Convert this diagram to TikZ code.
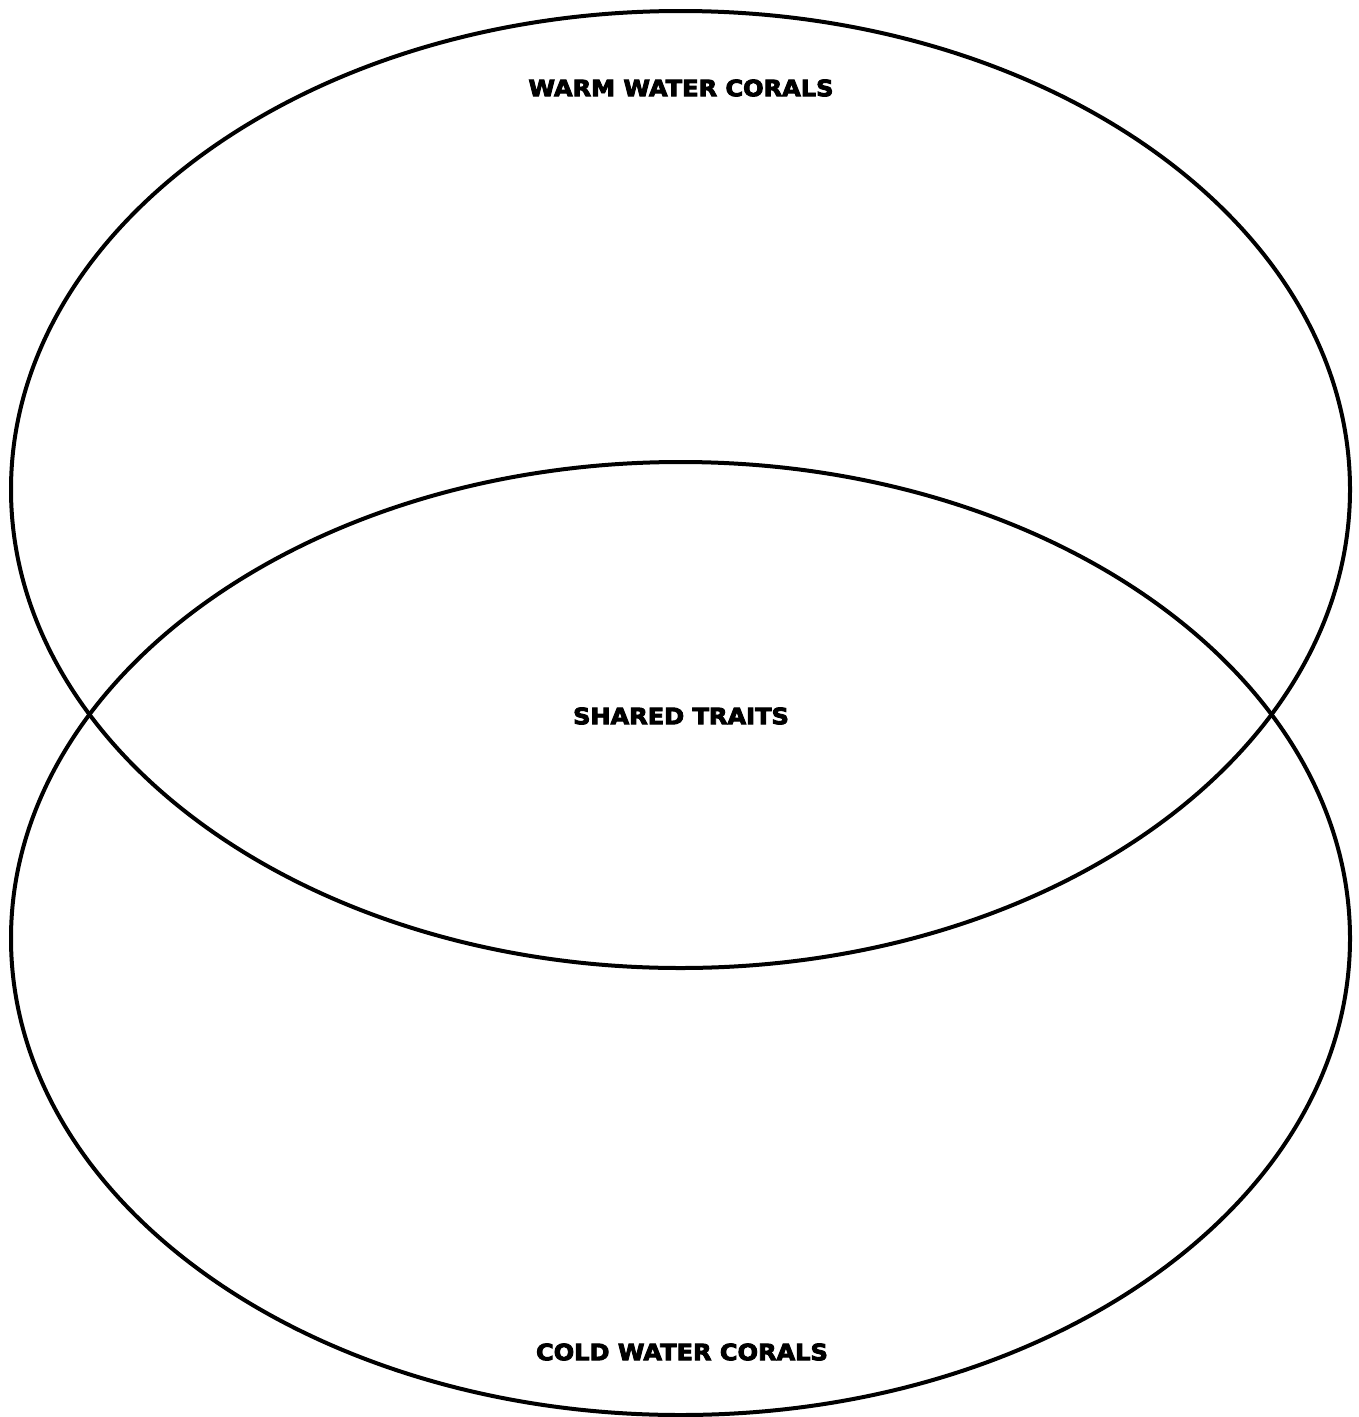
\documentclass[tikz,border=0pt]{standalone}
\usepackage{fontspec}
\newfontfamily\labelfont[FakeStretch=1.07,FakeBold=4]{DejaVu Sans Bold}
\begin{document}
\begin{tikzpicture}[x=1pt,y=-1pt,
  ring/.style={draw=black,line width=4pt},
  lbl/.style={font=\labelfont\fontsize{22.5}{25}\selectfont,inner sep=0pt,anchor=center}]
\useasboundingbox[fill=white] (0,0) rectangle (1359,1417);
\draw[ring] (680.5,489.5) ellipse [x radius=669.5, y radius=478.5];
\draw[ring] (680.5,938.5) ellipse [x radius=669.5, y radius=476.5];
\node[lbl] (warm) at (681,88) {WARM WATER CORALS};
\node[lbl] (shared) at (681,716) {SHARED TRAITS};
\node[lbl] (cold) at (682,1352) {COLD WATER CORALS};
\end{tikzpicture}
\end{document}
